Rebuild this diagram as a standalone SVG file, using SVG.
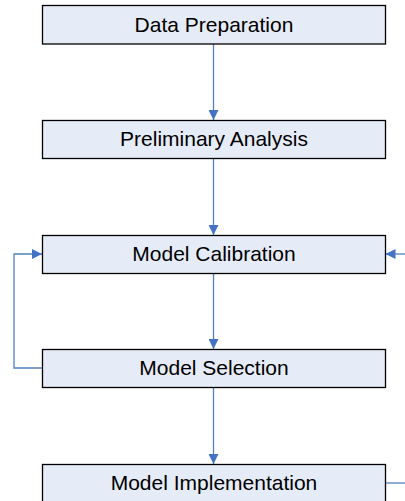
<svg xmlns="http://www.w3.org/2000/svg" width="405" height="501" viewBox="0 0 405 501">
<defs>
<style>
.box{fill:#E6ECF7;stroke:#000;stroke-width:1.3}
.lbl{font-family:"Liberation Sans",Arial,sans-serif;font-size:21px;fill:#000;text-anchor:middle}
.con{fill:none;stroke:#4F81BD;stroke-width:1.3}
</style>
<marker id="ah" viewBox="0 0 10 10" refX="10" refY="5" markerWidth="10" markerHeight="10" markerUnits="userSpaceOnUse" orient="auto">
<path d="M0,0 L10,5 L0,10 z" fill="#4472C4"/>
</marker>
</defs>
<rect width="405" height="501" fill="#fff"/>
<g id="connectors">
<line class="con" x1="213.5" y1="44" x2="213.5" y2="120" marker-end="url(#ah)"/>
<line class="con" x1="213.5" y1="158" x2="213.5" y2="235" marker-end="url(#ah)"/>
<line class="con" x1="213.5" y1="273" x2="213.5" y2="349" marker-end="url(#ah)"/>
<line class="con" x1="213.5" y1="388" x2="213.5" y2="464" marker-end="url(#ah)"/>
<polyline class="con" points="42,368 14,368 14,254 42,254" marker-end="url(#ah)"/>
<line class="con" x1="410" y1="254" x2="385.5" y2="254" marker-end="url(#ah)"/>
<line class="con" x1="385.5" y1="483" x2="410" y2="483"/>
</g>
<g id="n1"><rect class="box" x="42.5" y="5.5" width="343" height="38.5"/><text class="lbl" x="214" y="31.5">Data Preparation</text></g>
<g id="n2"><rect class="box" x="42.5" y="120.5" width="343" height="38"/><text class="lbl" x="214" y="146">Preliminary Analysis</text></g>
<g id="n3"><rect class="box" x="42.5" y="235.5" width="343" height="38"/><text class="lbl" x="214" y="261">Model Calibration</text></g>
<g id="n4"><rect class="box" x="42.5" y="349.5" width="343" height="38"/><text class="lbl" x="214" y="375">Model Selection</text></g>
<g id="n5"><rect class="box" x="42.5" y="464.5" width="343" height="40"/><text class="lbl" x="214" y="490">Model Implementation</text></g>
</svg>
